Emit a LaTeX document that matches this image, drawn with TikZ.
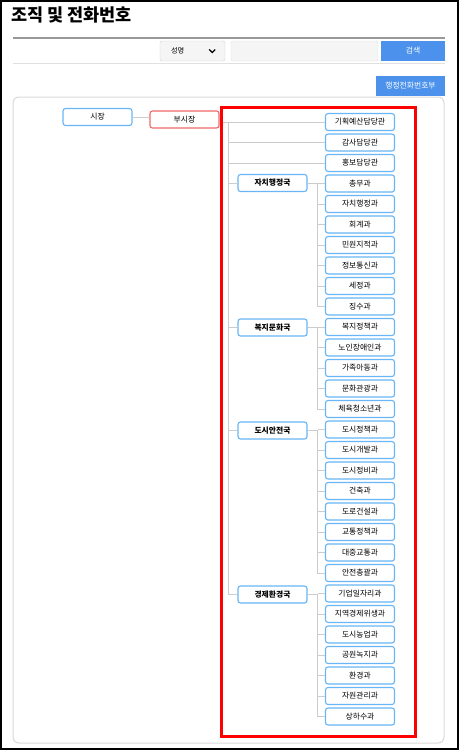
\documentclass[tikz,border=0pt]{standalone}
\usepackage{fontspec}
\newfontfamily\kr{Noto Sans CJK KR}
\usetikzlibrary{positioning,calc}
\definecolor{nodeblue}{RGB}{104,182,245}
\definecolor{nodered}{RGB}{240,104,104}
\definecolor{btnblue}{RGB}{76,146,236}
\definecolor{linegray}{RGB}{204,204,204}
\tikzset{
  org/.style={draw=nodeblue,line width=1.1pt,rounded corners=2.5pt,fill=white,minimum width=69pt,minimum height=17pt,inner sep=0pt,font=\kr\fontsize{7.8}{8}\selectfont},
  dept/.style={org,font=\kr\bfseries\fontsize{7.8}{8}\selectfont},
  ln/.style={draw=linegray,line width=0.9pt},
  btn/.style={fill=btnblue,text=white,inner sep=0pt,font=\kr\fontsize{7.8}{8}\selectfont}
}

\begin{document}
\begin{tikzpicture}[x=1pt,y=-1pt]
\useasboundingbox (0,0) rectangle (459,750);
% header
\node[anchor=west,inner sep=0pt,font=\kr\bfseries\fontsize{17.5}{20}\selectfont] (title) at (11,15) {조직 및 전화번호};
\draw[draw=black!40,line width=2pt] (13,37.5) -- (445,37.5);
\node[draw=black!18,fill=black!4,rounded corners=1.5pt,minimum width=65pt,minimum height=20pt,inner sep=0pt] (sel) at (192.5,51) {};
\node[font=\kr\fontsize{7.2}{8}\selectfont,inner sep=0pt,right=11pt of sel.west] (selt) {성명};
\draw[line width=1.3pt] ($(sel.east)+(-16,-1.5)$) -- ++(3,3) -- ++(3,-3);
\node[draw=black!12,fill=black!4,rounded corners=1.5pt,minimum width=147pt,minimum height=20pt,inner sep=0pt] (inp) at (304.5,51) {};
\node[btn,minimum width=64pt,minimum height=20pt] (srch) at (413,51) {검색};
\draw[draw=black!12,line width=0.8pt] (13,63.5) -- (445,63.5);
\node[btn,minimum width=69pt,minimum height=20pt] (book) at (410.5,86) {행정전화번호부};
% panel
\draw[draw=black!15,line width=1pt,rounded corners=6pt] (13,97) rectangle (444,743);

% top
\node[org] (mayor) at (97.5,117) {시장};
\node[org,draw=nodered] (vice) at (184.5,119.5) {부시장};
\node[org] (b0) at (360,122) {기획예산담당관};
\node[org] (b1) at (360,142.5) {감사담당관};
\node[org] (b2) at (360,163) {홍보담당관};

% bureaus
\node[dept] (d1) at (272.5,183) {자치행정국};
\node[dept] (d2) at (272.5,327.5) {복지문화국};
\node[dept] (d3) at (272.5,430.5) {도시안전국};
\node[dept] (d4) at (272.5,594.5) {경제환경국};

% 자치행정국
\node[org] (a1) at (360,183.5) {총무과};
\node[org] (a2) at (360,204) {자치행정과};
\node[org] (a3) at (360,224.5) {회계과};
\node[org] (a4) at (360,245) {민원지적과};
\node[org] (a5) at (360,265.5) {정보통신과};
\node[org] (a6) at (360,286) {세정과};
\node[org] (a7) at (360,306.5) {징수과};
% 복지문화국
\node[org] (w1) at (360,327) {복지정책과};
\node[org] (w2) at (360,347.5) {노인장애인과};
\node[org] (w3) at (360,368) {가족아동과};
\node[org] (w4) at (360,388.5) {문화관광과};
\node[org] (w5) at (360,409) {체육청소년과};
% 도시안전국
\node[org] (u1) at (360,429.5) {도시정책과};
\node[org] (u2) at (360,450) {도시개발과};
\node[org] (u3) at (360,470.5) {도시정비과};
\node[org] (u4) at (360,491) {건축과};
\node[org] (u5) at (360,511.5) {도로건설과};
\node[org] (u6) at (360,532) {교통정책과};
\node[org] (u7) at (360,552.5) {대중교통과};
\node[org] (u8) at (360,573) {안전총괄과};
% 경제환경국
\node[org] (e1) at (360,593.5) {기업일자리과};
\node[org] (e2) at (360,614) {지역경제위생과};
\node[org] (e3) at (360,634.5) {도시농업과};
\node[org] (e4) at (360,655) {공원녹지과};
\node[org] (e5) at (360,675.5) {환경과};
\node[org] (e6) at (360,696) {자원관리과};
\node[org] (e7) at (360,716.5) {상하수과};

% connectors
\draw[ln] (mayor.east) -- (mayor.east -| vice.west);
\draw[ln] (vice.east |- b0.west) -- (b0.west);
\coordinate (trunk) at ($(vice.east |- b0.west)+(9,0)$);
\draw[ln] (trunk) |- (d4.west);
\foreach \n in {b1,b2,d1,d2,d3} \draw[ln] (trunk |- \n.west) -- (\n.west);
\draw[ln] (d1.east) -- ++(10,0) coordinate (s1) |- (a7.west);
\foreach \n in {a1,a2,a3,a4,a5,a6} \draw[ln] (s1 |- \n.west) -- (\n.west);
\draw[ln] (d2.east) -- ++(10,0) coordinate (s2) |- (w5.west);
\foreach \n in {w1,w2,w3,w4} \draw[ln] (s2 |- \n.west) -- (\n.west);
\draw[ln] (d3.east) -- ++(10,0) coordinate (s3) |- (u8.west);
\foreach \n in {u1,u2,u3,u4,u5,u6,u7} \draw[ln] (s3 |- \n.west) -- (\n.west);
\draw[ln] (d4.east) -- ++(10,0) coordinate (s4) |- (e7.west);
\foreach \n in {e1,e2,e3,e4,e5,e6} \draw[ln] (s4 |- \n.west) -- (\n.west);

% highlight frame
\draw[red,line width=3pt] (221.5,107.5) rectangle (415.5,736.5);
% screenshot border
\draw[black,line width=2pt] (1,1) rectangle (458,749);
\end{tikzpicture}
\end{document}
